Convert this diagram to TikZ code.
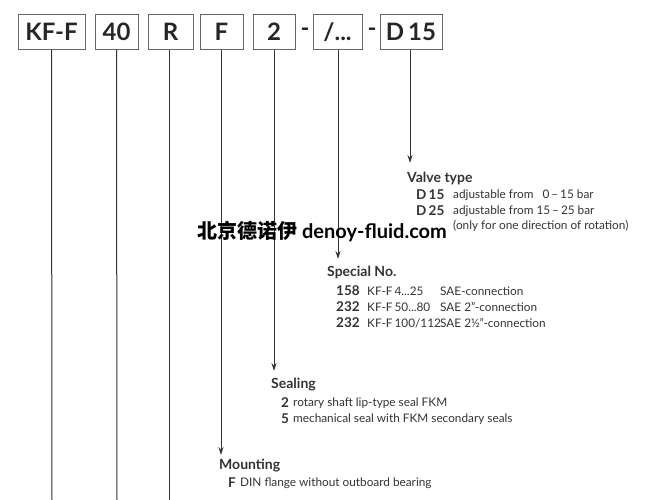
\documentclass[tikz,border=0pt]{standalone}
\usepackage{fontspec}
\usetikzlibrary{arrows.meta}
\setmainfont{Lato}
\newfontfamily\cjk{Noto Sans CJK SC}
\definecolor{tx}{HTML}{333333}
\begin{document}
\begin{tikzpicture}[x=1pt,y=-1pt,
 box/.style={draw=gray!80!black,line width=1pt,minimum height=35pt,inner sep=1pt,font=\fontsize{24}{24}\selectfont\bfseries,text=black!85},
 ln/.style={line width=1pt,draw=black!80},
 ar/.style={ln,-{Stealth[length=8pt,width=5pt]}},
 hd/.style={anchor=west,font=\fontsize{14}{16}\selectfont\bfseries,text=tx,inner sep=0},
 cd/.style={anchor=west,font=\fontsize{13.5}{16}\selectfont\bfseries,text=tx,inner sep=0},
 bd/.style={anchor=west,font=\fontsize{11.8}{14}\selectfont,text=tx,inner sep=0}]
\useasboundingbox (0,0) rectangle (649,500);
\node[box,minimum width=67pt] (b1) at (51.5,32) {KF-F};
\node[box,minimum width=43pt] (b2) at (116.5,32) {40};
\node[box,minimum width=45pt] (b3) at (170.5,32) {R};
\node[box,minimum width=43pt] (b4) at (221.5,32) {F};
\node[box,minimum width=42pt] (b5) at (274,32) {2};
\node[box,minimum width=49pt] (b6) at (337.5,32) {/...};
\node[box,minimum width=62pt] (b7) at (411,32) {D\,15};
\node[font=\fontsize{24}{24}\selectfont\bfseries,text=black!85] (d1) at (305,32) {-};
\node[font=\fontsize{24}{24}\selectfont\bfseries,text=black!85] (d2) at (372,32) {-};
\coordinate (e1) at (52,500); \coordinate (e2) at (117,500); \coordinate (e3) at (169,500);
\draw[ln] (b1.south) -- (e1);
\draw[ln] (b2.south) -- (e2);
\draw[ln] (b3.south -| e3) -- (e3);
\node[hd] (vt) at (407,178) {Valve type};
\node[cd] (v1) at (416,195) {D\,15};
\node[bd] at (453,195) {adjustable from \ \ 0\,–\,15 bar};
\node[cd] (v2) at (416,211) {D\,25};
\node[bd] at (453,211) {adjustable from 15\,–\,25 bar};
\node[bd] at (453,226) {(only for one direction of rotation)};
\coordinate (t7) at (410,163);
\draw[ar] (b7.south -| t7) -- (t7);
\node[hd] (sn) at (327,272) {Special No.};
\foreach \y/\a/\b/\c in {291/158/{KF-F\,4...25}/SAE-connection,307/232/{KF-F\,50...80}/{SAE 2"-connection},323/232/{KF-F\,100/112}/{SAE 2½"-connection}}{
 \node[cd] at (336,\y) {\a};
 \node[bd] at (367,\y) {\b};
 \node[bd] at (440,\y) {\c};}
\coordinate (t6) at (338,259);
\draw[ar] (b6.south -| t6) -- (t6);
\node[hd] (se) at (271,385) {Sealing};
\node[cd] at (281,403) {2}; \node[bd] at (293,403) {rotary shaft lip-type seal FKM};
\node[cd] at (281,419) {5}; \node[bd] at (293,419) {mechanical seal with FKM secondary seals};
\coordinate (t5) at (274,371);
\draw[ar] (b5.south -| t5) -- (t5);
\node[hd] (mo) at (219,466) {Mounting};
\node[cd] at (228,483) {F}; \node[bd] at (240,483) {DIN flange without outboard bearing};
\coordinate (t4) at (221,455);
\draw[ar] (b4.south -| t4) -- (t4);
\node[anchor=west,inner sep=0,font=\fontsize{20}{20}\selectfont\bfseries] (wm) at (197,232) {{\cjk\bfseries 北京德诺伊} denoy-fluid.com};
\end{tikzpicture}
\end{document}
